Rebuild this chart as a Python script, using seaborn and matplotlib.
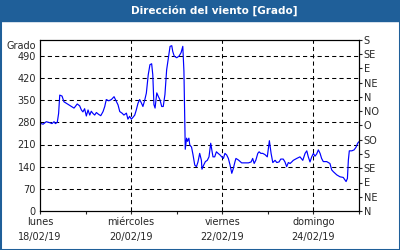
import numpy as np
import pandas as pd
import matplotlib
matplotlib.use("Agg")
import matplotlib.pyplot as plt
import matplotlib.dates as mdates
from matplotlib.patches import Rectangle
import seaborn as sns

# hours since 18/02/19 00:00 and wind direction in degrees
hours = [0.2, 1.6, 3.3, 5.1, 6.3, 7.4, 8.1, 9.1, 9.8, 10.4, 11.6, 12.6, 13.9, 15.1,
         16.5, 17.9, 18.6, 19.6, 20.9, 21.8, 22.6, 23.5, 24.4, 25.3, 26.2, 27.0,
         27.9, 28.8, 29.7, 30.9, 32.0, 33.2, 34.1, 34.9, 36.2, 37.6, 39.0, 40.2,
         41.1, 42.0, 43.2, 44.2, 45.5, 46.3, 47.2, 48.1, 49.0, 49.9, 50.7, 51.6,
         52.5, 53.4, 54.2, 55.1, 56.0, 57.0, 57.9, 58.8, 59.4, 60.0, 60.6, 61.5,
         62.3, 63.2, 64.1, 64.9, 65.8, 66.7, 67.6, 68.5, 69.4, 69.9, 70.7, 72.0,
         73.2, 74.3, 75.2, 75.8, 76.3, 76.5, 77.2, 77.7, 78.4, 78.9, 79.8, 80.6,
         81.5, 82.4, 83.2, 84.1, 85.0, 85.3, 86.2, 87.1, 88.1, 89.0, 89.9, 90.6,
         91.1, 92.0, 92.9, 93.8, 94.8, 95.7, 96.6, 97.4, 98.3, 99.2, 100.1, 101.0,
         101.8, 102.7, 103.2, 104.5, 106.2, 108.0, 109.8, 111.2, 112.0, 112.8,
         113.7, 114.7, 115.4, 116.3, 117.3, 118.5, 119.7, 120.8, 121.7, 122.6,
         123.8, 124.7, 125.9, 126.8, 128.1, 129.0, 129.9, 130.8, 131.7, 132.6,
         133.4, 135.2, 136.9, 138.4, 139.6, 140.5, 141.3, 142.2, 143.1, 144.0,
         144.8, 145.7, 146.6, 147.5, 148.3, 149.2, 151.0, 152.7, 153.6, 154.5,
         156.3, 158.0, 159.7, 160.6, 161.2, 161.9, 162.4, 162.9, 164.2, 165.4,
         166.4, 167.3, 168.0]
direction = [277, 274, 282, 279, 276, 282, 276, 280, 308, 366, 363, 345, 340, 335,
             330, 325, 330, 338, 332, 319, 313, 323, 300, 319, 303, 315,
             308, 303, 311, 305, 301, 314, 330, 352, 348, 352, 361, 346,
             335, 314, 309, 303, 309, 290, 299, 290, 296, 303, 319, 340,
             352, 341, 330, 349, 372, 430, 462, 465, 430, 336, 325, 373,
             362, 351, 330, 330, 368, 446, 483, 520, 522, 504, 489, 484,
             489, 500, 520, 441, 277, 195, 230, 220, 230, 208, 202, 177,
             145, 140, 155, 182, 160, 132, 145, 156, 160, 171, 214, 190,
             171, 171, 187, 182, 177, 171, 166, 182, 177, 166, 145, 119,
             134, 156, 166, 161, 152, 152, 152, 155, 166, 150,
             161, 182, 187, 182, 182, 178, 171, 222, 182, 153,
             160, 153, 155, 164, 164, 155, 140, 153, 150, 155,
             160, 166, 171, 160, 182, 190, 171, 155, 171, 182,
             173, 180, 193, 182, 166, 156, 156, 150, 130, 124,
             114, 108, 106, 98, 93, 103, 161, 190, 190, 193,
             201, 214, 219]

tick_dates = ["2019-02-18", "2019-02-20", "2019-02-22", "2019-02-24"]
tick_labels = ["lunes\n18/02/19", "miércoles\n20/02/19", "viernes\n22/02/19", "domingo\n24/02/19"]
left_ticks = [0, 70, 140, 210, 280, 350, 420, 490]
compass = ["N", "NE", "E", "SE", "S", "SO", "O", "NO", "N", "NE", "E", "SE", "S"]

start = pd.Timestamp("2019-02-18")
df = pd.DataFrame({"time": start + pd.to_timedelta(hours, unit="h"), "dir": direction})

sns.set_style("white")
plt.rcParams["font.family"] = ["DejaVu Sans"]
plt.rcParams["font.size"] = 7

fig = plt.figure(figsize=(4, 2.5), dpi=100)
fig.patch.set_facecolor("white")
blue = "#1f5f99"
fig.patches.append(Rectangle((0, 0), 1, 1, transform=fig.transFigure, fill=False,
                             edgecolor=blue, lw=2.2, zorder=0))
fig.patches.append(Rectangle((0, 1 - 21 / 250), 1, 21 / 250, transform=fig.transFigure,
                             facecolor=blue, edgecolor=blue, zorder=0))
fig.text(0.535, 1 - 10.5 / 250, "Dirección del viento [Grado]", color="white",
         fontsize=7.5, fontweight="bold", ha="center", va="center")

ax = fig.add_axes([40 / 400, 1 - 211 / 250, 319 / 400, 171 / 250])
sns.lineplot(data=df, x="time", y="dir", ax=ax, color="#0000ff", lw=0.85)

x0 = start
x1 = start + pd.Timedelta(days=7)
ax.set_xlim(x0, x1)
ax.set_ylim(0, 540)
ax.set_xlabel("")
ax.set_ylabel("")

ax.set_yticks(left_ticks)
ax.set_xticks(pd.to_datetime(tick_dates))
ax.set_xticklabels(tick_labels, linespacing=1.55)
ax.xaxis.set_minor_locator(mdates.DayLocator())
ax.tick_params(axis="y", length=0, pad=3, labelsize=7)
ax.tick_params(axis="x", which="both", direction="out", length=2.5, width=0.8,
               pad=2, labelsize=7, bottom=True)

gs = dict(color="black", lw=0.75, linestyle=(0, (4, 3)))
for v in left_ticks[1:]:
    ax.axhline(v, **gs, zorder=1)
for d in tick_dates[1:]:
    ax.axvline(pd.Timestamp(d), **gs, zorder=1)

for s in ax.spines.values():
    s.set_color("black")
    s.set_linewidth(0.8)

ax.text(-0.012, 521, "Grado", transform=ax.get_yaxis_transform(), ha="right",
        va="center", fontsize=7)

ax2 = ax.twinx()
ax2.set_ylim(0, 540)
ax2.set_yticks(np.arange(0, 541, 45))
ax2.set_yticklabels(compass)
ax2.tick_params(axis="y", direction="out", length=2.5, width=0.8, pad=1, labelsize=7)
for s in ax2.spines.values():
    s.set_color("black")
    s.set_linewidth(0.8)

fig.savefig("out.png", dpi=100)
